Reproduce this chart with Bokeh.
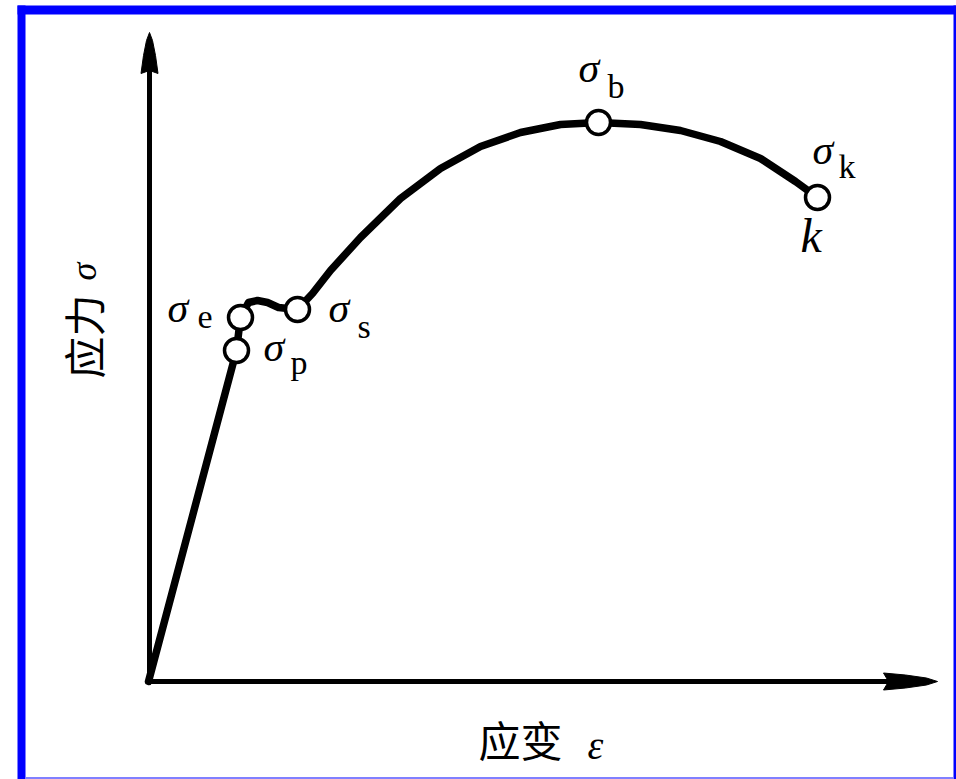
from bokeh.plotting import figure
from bokeh.models import Range1d
from bokeh.core.properties import value
from bokeh.embed import file_html
from bokeh.resources import INLINE

# Canvas and mapping: origin of the diagram in pixels, 10 px per unit
W, H = 956, 779
OX, OY = 148, 681
S = 10.0


def X(px):
    return (px - OX) / S


def Y(py):
    return (OY - py) / S


# Stress-strain curve (arbitrary units)
strain = [0.0, 8.8, 9.2, 10.0, 10.9, 11.9, 13.0, 14.9, 16.4, 18.2, 21.2,
          25.2, 29.2, 33.2, 37.2, 41.2, 45.0, 49.2, 53.2, 57.2, 61.2, 64.7, 66.9]
stress = [0.0, 33.1, 36.4, 37.9, 38.1, 37.9, 37.4, 37.2, 38.8, 41.1, 44.4,
          48.3, 51.3, 53.5, 54.9, 55.7, 55.9, 55.7, 55.1, 54.0, 52.3, 50.0, 48.4]

# Characteristic points: proportional limit, elastic limit, yield, ultimate, fracture
pt_sub = ["p", "e", "s", "b", "k"]
pt_strain = [8.8, 9.2, 14.9, 45.0, 66.9]
pt_stress = [33.1, 36.4, 37.2, 55.9, 48.4]

# label placement (pixel offsets of sigma / subscript relative to the point)
lab_sigma_off = [(27, 4), (-73, 10), (31, 2), (-20, 55), (-5, 48)]
lab_sub_off = [(54, -12), (-43, 1), (60, -17), (9, 36), (21, 31)]

p = figure(width=W, height=H,
           x_range=Range1d(X(0), X(W)), y_range=Range1d(Y(H), Y(0)),
           min_border=0, toolbar_location=None, output_backend="svg",
           x_axis_location=None, y_axis_location=None)
p.grid.visible = False
p.outline_line_color = None
p.background_fill_color = "white"
p.border_fill_color = "white"

# frame around the figure
blue = "#0000ff"
p.quad(left=[X(17)], right=[X(956)], top=[Y(5)], bottom=[Y(14)],
       fill_color=blue, line_color=None)
p.quad(left=[X(17)], right=[X(25)], top=[Y(5)], bottom=[Y(779)],
       fill_color=blue, line_color=None)
p.quad(left=[X(953)], right=[X(956)], top=[Y(5)], bottom=[Y(779)],
       fill_color=blue, line_color=None)
p.quad(left=[X(25)], right=[X(953)], top=[Y(776.5)], bottom=[Y(779)],
       fill_color="#8080ff", line_color=None)

# axes with arrow heads
p.line([X(149), X(149)], [Y(683), Y(66)], line_width=5, line_color="black")
p.line([X(146), X(890)], [Y(681), Y(681)], line_width=5, line_color="black")
p.patch([X(v) for v in (149, 152, 155, 157.5, 149, 140.5, 143, 146)],
        [Y(v) for v in (32, 40, 55, 73, 70, 73, 55, 40)],
        fill_color="black", line_color="black", line_width=1)
p.patch([X(v) for v in (937, 926, 905, 883, 888, 883, 905, 926)],
        [Y(v) for v in (681, 677.5, 674.5, 672.5, 681, 689.5, 687.5, 684.5)],
        fill_color="black", line_color="black", line_width=1)

# curve
p.line(strain, stress, line_width=7.5, line_color="black",
       line_join="round", line_cap="round")

# characteristic points as open circles
p.scatter(pt_strain, pt_stress, size=24, fill_color="white",
          line_color="black", line_width=3.5)

serif = value("Liberation Serif")

for sub, xs, ys, so, bo in zip(pt_sub, pt_strain, pt_stress,
                               lab_sigma_off, lab_sub_off):
    p.text([xs + so[0] / S], [ys + so[1] / S], text=["σ"],
           text_font=serif, text_font_style="italic", text_font_size="42px",
           text_align="left", text_baseline="alphabetic", text_color="black")
    p.text([xs + bo[0] / S], [ys + bo[1] / S], text=[sub],
           text_font=serif, text_font_size="34px",
           text_align="left", text_baseline="alphabetic", text_color="black")

# fracture point letter
p.text([pt_strain[4] - 17 / S], [pt_stress[4] - 38 / S], text=["k"],
       text_font=serif, text_font_style="italic", text_font_size="48px",
       text_align="left", text_baseline="alphabetic", text_color="black")

# axis titles
cjk = value("Noto Sans CJK SC")
p.text([X(478)], [Y(738)], text=["应变"], text_font=cjk,
       text_font_size="42px", text_align="left", text_baseline="alphabetic",
       text_color="black")
p.text([X(587)], [Y(745)], text=["ε"], text_font=serif,
       text_font_style="italic", text_font_size="40px", text_align="left",
       text_baseline="alphabetic", text_color="black")

p.text([X(82)], [Y(378)], text=["应力"], text_font=cjk,
       text_font_size="42px", text_align="left", text_baseline="middle",
       angle=1.5708, text_color="black")
p.text([X(83)], [Y(280)], text=["σ"], text_font=serif,
       text_font_style="italic", text_font_size="36px", text_align="left",
       text_baseline="middle", angle=1.5708, text_color="black")

open("out.html", "w").write(file_html(p, INLINE))
